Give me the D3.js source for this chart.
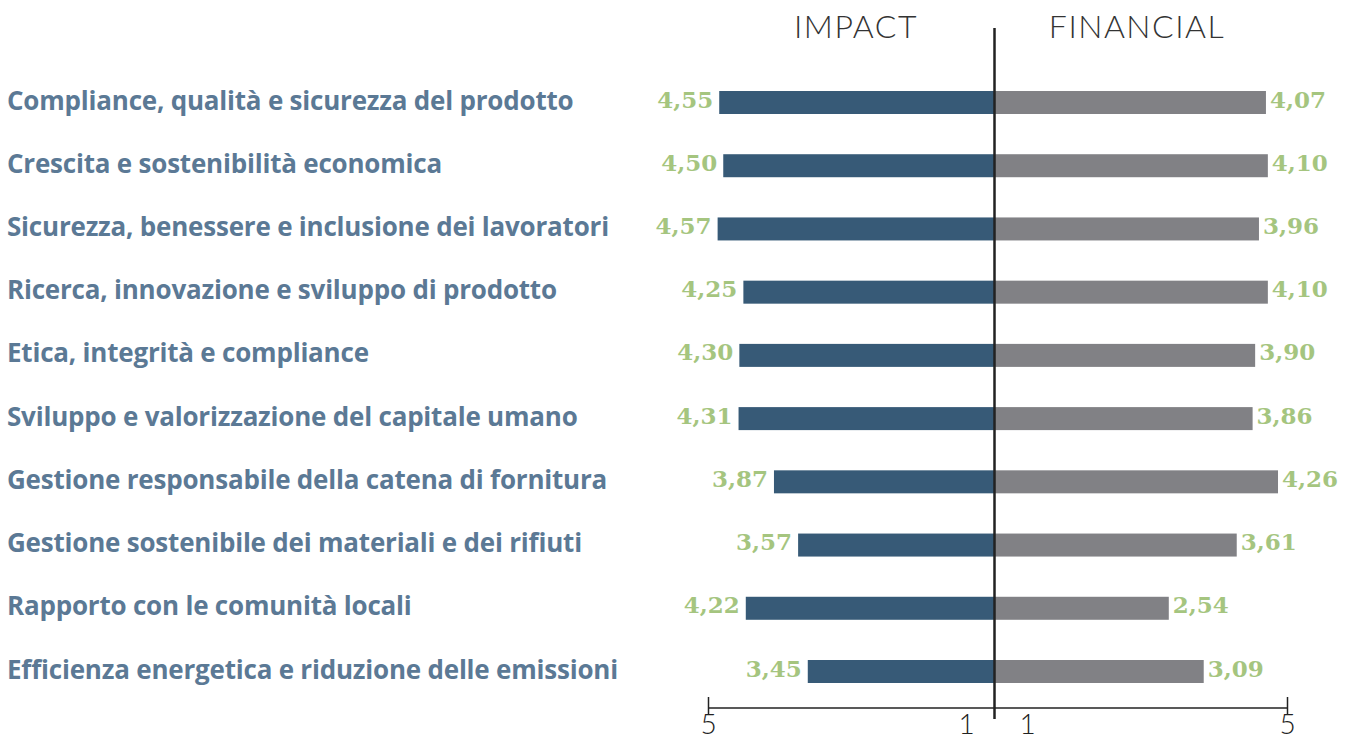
<!DOCTYPE html>
<html>
<head>
<meta charset="utf-8">
<script src="https://cdn.jsdelivr.net/npm/d3@7"></script>
<style>
  body { margin: 0; background: #fff; }
</style>
</head>
<body>
<div id="chart"></div>
<script>
// data
const categories = [
    "Compliance, qualità e sicurezza del prodotto",
    "Crescita e sostenibilità economica",
    "Sicurezza, benessere e inclusione dei lavoratori",
    "Ricerca, innovazione e sviluppo di prodotto",
    "Etica, integrità e compliance",
    "Sviluppo e valorizzazione del capitale umano",
    "Gestione responsabile della catena di fornitura",
    "Gestione sostenibile dei materiali e dei rifiuti",
    "Rapporto con le comunità locali",
    "Efficienza energetica e riduzione delle emissioni"
];
const impact    = [4.55, 4.50, 4.57, 4.25, 4.30, 4.31, 3.87, 3.57, 4.22, 3.45];
const financial = [4.07, 4.10, 3.96, 4.10, 3.90, 3.86, 4.26, 3.61, 2.54, 3.09];
const sideTitles = ["IMPACT", "FINANCIAL"];
const axisTicks = [5, 1];

const width = 1353, height = 740;
const center = 994.5;

const svg = d3.select("#chart")
    .append("svg")
    .attr("width", width)
    .attr("height", height);

// scales
const y = d3.scalePoint()
    .domain(categories)
    .range([102.5, 671.5]);

// bars on the two sides are not drawn to the same length per unit
const xL = d3.scaleLinear().domain([1, 5]).range([1005, 683]);
const xR = d3.scaleLinear().domain([1, 5]).range([1071, 1325]);

// axis scales (tick labels at the bottom)
const axL = d3.scaleLinear().domain([5, 1]).range([708, 966]);
const axR = d3.scaleLinear().domain([1, 5]).range([1027, 1287]);

const fmt = d3.formatLocale({decimal: ",", thousands: ".", grouping: [3], currency: ["", "€"]}).format(".2f");

const barH = 23;
const rows = categories.map((c, i) => ({cat: c, imp: impact[i], fin: financial[i]}));

// category labels
const labels = svg.append("g")
    .selectAll("text")
    .data(rows)
    .join("text")
    .attr("x", 7)
    .attr("y", d => y(d.cat) + 7)
    .style("font-family", "'Open Sans', sans-serif")
    .style("font-weight", 700)
    .style("font-size", "22px")
    .style("letter-spacing", "-0.2px")
    .style("fill", "#5b7995")
    .text(d => d.cat);

// fit the label size so the first label spans the same width as the original
const w0 = labels.node().getComputedTextLength();
labels.style("font-size", (22 * 565 / w0).toFixed(2) + "px");

// impact bars
svg.append("g")
    .selectAll("rect")
    .data(rows)
    .join("rect")
    .attr("x", d => xL(d.imp))
    .attr("y", d => y(d.cat) - barH / 2)
    .attr("width", d => center - xL(d.imp))
    .attr("height", barH)
    .style("fill", "#375a77");

// financial bars
svg.append("g")
    .selectAll("rect")
    .data(rows)
    .join("rect")
    .attr("x", center)
    .attr("y", d => y(d.cat) - barH / 2)
    .attr("width", d => xR(d.fin) - center)
    .attr("height", barH)
    .style("fill", "#818185");

// value labels
const valueStyle = sel => sel
    .style("font-family", "'DejaVu Serif', serif")
    .style("font-weight", 700)
    .style("font-size", "23px")
    .style("fill", "#a5c57f");

svg.append("g")
    .selectAll("text")
    .data(rows)
    .join("text")
    .attr("x", d => xL(d.imp) - 6)
    .attr("y", d => y(d.cat) + 5)
    .attr("text-anchor", "end")
    .call(valueStyle)
    .text(d => fmt(d.imp));

svg.append("g")
    .selectAll("text")
    .data(rows)
    .join("text")
    .attr("x", d => xR(d.fin) + 4)
    .attr("y", d => y(d.cat) + 5)
    .attr("text-anchor", "start")
    .call(valueStyle)
    .text(d => fmt(d.fin));

// side titles
svg.append("g")
    .selectAll("text")
    .data(sideTitles)
    .join("text")
    .attr("x", (d, i) => i === 0 ? 856 : 1137)
    .attr("y", 38)
    .attr("text-anchor", "middle")
    .style("font-family", "Lato, sans-serif")
    .style("font-weight", 300)
    .style("font-size", "32px")
    .style("letter-spacing", "1.5px")
    .style("fill", "#333")
    .text(d => d);

// bottom axis
const axisY = 708;
svg.append("line")
    .attr("x1", axL(5)).attr("x2", axR(5))
    .attr("y1", axisY).attr("y2", axisY)
    .style("stroke", "#222")
    .style("stroke-width", 1.5);

function styleAxis(g) {
    g.select(".domain").remove();
    g.selectAll(".tick line")
        .attr("y1", -11).attr("y2", 7)
        .style("stroke", "#222")
        .style("stroke-width", 1.5)
        .style("opacity", d => d === 5 ? 1 : 0);
    g.selectAll(".tick text")
        .attr("y", 26).attr("dy", 0)
        .style("font-family", "Lato, sans-serif")
        .style("font-weight", 300)
        .style("font-size", "28px")
        .style("fill", "#222");
}

svg.append("g")
    .attr("transform", `translate(0,${axisY})`)
    .call(d3.axisBottom(axL).tickValues(axisTicks).tickFormat(d3.format("d")))
    .call(styleAxis);

svg.append("g")
    .attr("transform", `translate(0,${axisY})`)
    .call(d3.axisBottom(axR).tickValues(axisTicks).tickFormat(d3.format("d")))
    .call(styleAxis);

// center line
svg.append("line")
    .attr("x1", center).attr("x2", center)
    .attr("y1", 28).attr("y2", 719)
    .style("stroke", "#222")
    .style("stroke-width", 2.5);
</script>
</body>
</html>
